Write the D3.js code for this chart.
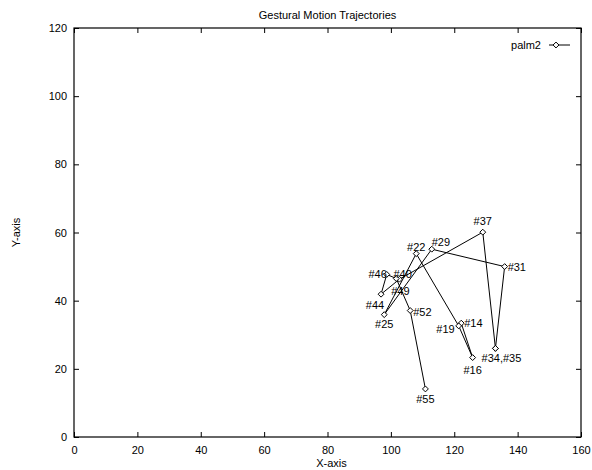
<!DOCTYPE html>
<html>
<head>
<meta charset="utf-8">
<script src="https://cdn.jsdelivr.net/npm/d3@7"></script>
<style>
  html, body { margin: 0; padding: 0; background: #fff; }
  svg text { font-family: "Liberation Sans", Arial, Helvetica, sans-serif; fill: #000; }
</style>
</head>
<body>
<svg id="chart" width="592" height="470"></svg>
<script>
// Frame numbers along the palm2 trajectory, with their positions
const frames = [14, 16, 19, 22, 25, 29, 31, 34, 35, 37, 40, 44, 46, 49, 52, 55];
const xValues = [122.2, 125.8, 121.4, 108.0, 97.9, 112.9, 135.9, 133.0, 133.0, 129.0, 102.7, 96.9, 98.7, 101.7, 106.1, 110.9];
const yValues = [33.4, 23.3, 32.6, 53.8, 35.9, 55.1, 50.0, 26.0, 26.0, 60.1, 46.3, 41.9, 47.7, 46.5, 37.1, 14.1];
const xTicks = [0, 20, 40, 60, 80, 100, 120, 140, 160];
const yTicks = [0, 20, 40, 60, 80, 100, 120];
const seriesName = "palm2";
const title = "Gestural Motion Trajectories";
const xTitle = "X-axis";
const yTitle = "Y-axis";

// Where each point label sits relative to its marker (pixels)
const labelPlacement = {
  14: { dx: 3, dy: 0, anchor: "start" },
  16: { dx: 0, dy: 12, anchor: "middle" },
  19: { dx: -4, dy: 3, anchor: "end" },
  22: { dx: 0, dy: -7, anchor: "middle" },
  25: { dx: 0, dy: 9, anchor: "middle" },
  29: { dx: 0, dy: -7, anchor: "start" },
  31: { dx: 3, dy: 0, anchor: "start" },
  34: { dx: 6, dy: 10, anchor: "middle" },
  37: { dx: 0, dy: -11, anchor: "middle" },
  40: { dx: -6, dy: -5, anchor: "start" },
  44: { dx: -6, dy: 11, anchor: "middle" },
  46: { dx: 0, dy: 0, anchor: "end" },
  49: { dx: -5, dy: 12, anchor: "start" },
  52: { dx: 3, dy: 1, anchor: "start" },
  55: { dx: 0, dy: 10, anchor: "middle" }
};

const points = frames.map((f, i) => ({ frame: f, x: xValues[i], y: yValues[i] }));

// Frames that share a position get one combined label
const labelGroups = [];
points.forEach(p => {
  const g = labelGroups.find(d => d.x === p.x && d.y === p.y);
  if (g) g.frames.push(p.frame);
  else labelGroups.push({ x: p.x, y: p.y, frames: [p.frame] });
});

const svg = d3.select("#chart");
const plotLeft = 74, plotRight = 581, plotTop = 28, plotBottom = 437;

const x = d3.scaleLinear().domain([0, 160]).range([plotLeft, plotRight]);
const y = d3.scaleLinear().domain([0, 120]).range([plotBottom, plotTop]);

const fontSize = 11;
const tickLen = 5;

// Axes with inward ticks on all four sides
const axisB = d3.axisBottom(x).tickValues(xTicks).tickSize(-tickLen).tickPadding(tickLen + 4);
const axisL = d3.axisLeft(y).tickValues(yTicks).tickSize(-tickLen).tickPadding(tickLen + 2);
const axisT = d3.axisTop(x).tickValues(xTicks).tickSize(-tickLen).tickFormat("");
const axisR = d3.axisRight(y).tickValues(yTicks).tickSize(-tickLen).tickFormat("");

function styleAxis(g) {
  g.select(".domain").remove();
  g.selectAll("line").attr("stroke", "#000").attr("stroke-width", 1);
  g.selectAll("text").attr("font-size", fontSize).attr("font-family", "Liberation Sans, Arial, sans-serif");
}

svg.append("g").attr("transform", `translate(0,${plotBottom})`).call(axisB).call(styleAxis);
svg.append("g").attr("transform", `translate(${plotLeft},0)`).call(axisL).call(styleAxis);
svg.append("g").attr("transform", `translate(0,${plotTop})`).call(axisT).call(styleAxis);
svg.append("g").attr("transform", `translate(${plotRight},0)`).call(axisR).call(styleAxis);

// Plot border
svg.append("rect")
  .attr("x", plotLeft).attr("y", plotTop)
  .attr("width", plotRight - plotLeft).attr("height", plotBottom - plotTop)
  .attr("fill", "none").attr("stroke", "#000").attr("stroke-width", 1.2);

// Titles
svg.append("text").attr("x", (plotLeft + plotRight) / 2).attr("y", 19)
  .attr("text-anchor", "middle").attr("font-size", fontSize).text(title);
svg.append("text").attr("x", (plotLeft + plotRight) / 2 + 4).attr("y", 467)
  .attr("text-anchor", "middle").attr("font-size", fontSize).text(xTitle);
svg.append("text")
  .attr("transform", `translate(20,${(plotTop + plotBottom) / 2}) rotate(-90)`)
  .attr("text-anchor", "middle").attr("font-size", fontSize).text(yTitle);

// Trajectory line
const line = d3.line().x(d => x(d.x)).y(d => y(d.y));
svg.append("path").datum(points)
  .attr("d", line).attr("fill", "none").attr("stroke", "#000").attr("stroke-width", 1);

// Diamond markers
const diamond = d3.symbol().type(d3.symbolDiamond2).size(22);
svg.append("g").selectAll("path").data(points).join("path")
  .attr("d", diamond)
  .attr("transform", d => `translate(${x(d.x)},${y(d.y)})`)
  .attr("fill", "#fff").attr("stroke", "#000").attr("stroke-width", 1);

// Frame labels
svg.append("g").selectAll("text").data(labelGroups).join("text")
  .attr("x", d => x(d.x) + labelPlacement[d.frames[0]].dx)
  .attr("y", d => y(d.y) + labelPlacement[d.frames[0]].dy)
  .attr("text-anchor", d => labelPlacement[d.frames[0]].anchor)
  .attr("dominant-baseline", "central")
  .attr("font-size", fontSize)
  .text(d => d.frames.map(f => "#" + f).join(","));

// Legend
const legendY = 45;
svg.append("text").attr("x", 541).attr("y", legendY)
  .attr("text-anchor", "end").attr("dominant-baseline", "central")
  .attr("font-size", fontSize).text(seriesName);
svg.append("line").attr("x1", 549).attr("x2", 570).attr("y1", legendY).attr("y2", legendY)
  .attr("stroke", "#000").attr("stroke-width", 1);
svg.append("path").attr("d", diamond)
  .attr("transform", `translate(556,${legendY})`)
  .attr("fill", "#fff").attr("stroke", "#000").attr("stroke-width", 1);
</script>
</body>
</html>
